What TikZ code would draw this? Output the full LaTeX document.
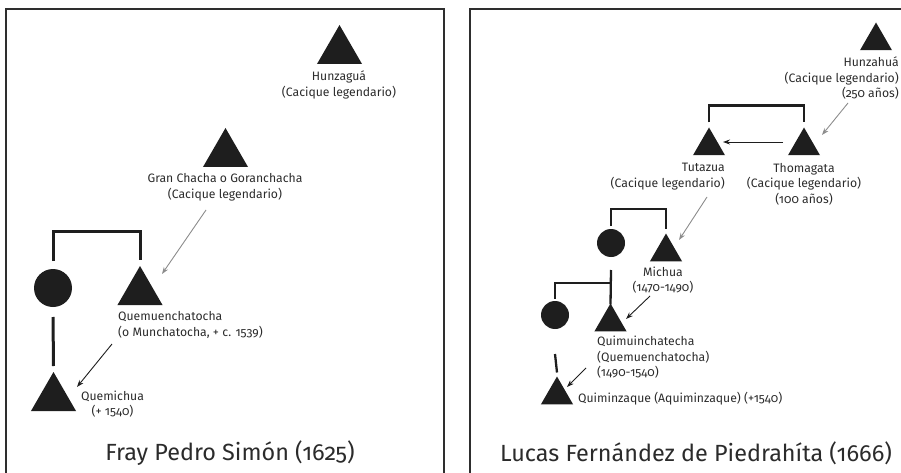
\documentclass[tikz,border=0pt]{standalone}
\usepackage{fontspec}
\setmainfont[Numbers=OldStyle]{Fira Sans}
\newfontfamily\lblfont[Numbers=OldStyle, Scale=1.22]{Fira Sans}
\newfontfamily\ttlfont[Numbers=OldStyle, Scale=2.34]{Fira Sans}
\usetikzlibrary{shapes.geometric,arrows.meta}

\definecolor{ink}{HTML}{1E1E1E}
\definecolor{txt}{HTML}{2B2B2B}
\definecolor{framec}{HTML}{2E2E2E}
\definecolor{pale}{HTML}{8C8C8C}

\tikzset{
  male/.style={regular polygon, regular polygon sides=3, fill=ink, draw=none,
               inner sep=0pt, outer sep=0pt, minimum size=#1},
  female/.style={circle, fill=ink, draw=none, inner sep=0pt, outer sep=0pt,
                 minimum size=#1},
  lbl/.style={font=\lblfont\fontsize{10}{15.5}\selectfont, text=txt, inner sep=0pt},
  heading/.style={font=\ttlfont, text=txt, inner sep=0pt},
  bond/.style={line width=#1, draw=ink},
  descent/.style={line width=0.9pt, draw=ink, -{Stealth[length=7pt,width=5pt]}},
  legend/.style={line width=0.9pt, draw=pale, -{Stealth[length=7pt,width=5pt]}},
  panel/.style={line width=1.3pt, draw=framec}
}

\begin{document}
\begin{tikzpicture}[x=1pt,y=-1pt]
  \useasboundingbox (0,0) rectangle (901,473);
  \clip (0,0) rectangle (901,473);

  % two panels
  \draw[panel] (6,490) -- (6,9) -- (444,9) -- (444,490);
  \draw[panel] (470,490) -- (470,9) -- (920,9);

  % ---------------- Fray Pedro Simón ----------------
  \node[male=52pt] (hunz) at (339.5,51) {};
  \node[lbl, align=center] (hunzlbl) at (339,85) {Hunzaguá\\(Cacique legendario)};

  \node[male=52pt] (gran) at (225.5,154) {};
  \node[lbl, align=center] (granlbl) at (225,187) {Gran Chacha o Goranchacha\\(Cacique legendario)};

  \node[female=38pt] (mother) at (53,288) {};
  \node[male=52pt] (quem) at (140,292) {};
  \node[lbl, align=left, anchor=west] (quemlbl) at (118,325) {Quemuenchatocha\\(o Munchatocha, + c. 1539)};

  \node[male=52pt] (quemi) at (53.5,398) {};
  \node[lbl, align=center] (quemilbl) at (112.5,404) {Quemichua\\(+ 1540)};

  \draw[bond=3pt] ([yshift=8pt]mother.north) -- ++(0,-30) -| ([yshift=6pt]quem.north);
  \draw[bond=3pt] ([yshift=-10pt]mother.south) -- ([yshift=6pt]quemi.north);

  \draw[legend] ([xshift=-19pt,yshift=-23pt]granlbl.center) -- ([xshift=22pt,yshift=18pt]quem.center);
  \draw[descent] ([xshift=-28pt,yshift=-52pt]quem.center) -- ([xshift=23.5pt,yshift=11pt]quemi.center);

  \node[heading] (simon) at (230,453) {Fray Pedro Simón (1625)};

  % ---------------- Lucas Fernández de Piedrahíta ----------------
  \node[male=37pt] (hunzr) at (876,41) {};
  \node[lbl, align=right, anchor=east] (hunzrlbl) at (899,78) {Hunzahuá\\(Cacique legendario)\\(250 años)};

  \node[male=37pt] (tut) at (709,146) {};
  \node[lbl, align=right, anchor=east] (tutlbl) at (725,176.5) {Tutazua\\(Cacique legendario)};

  \node[male=37pt] (thom) at (804,146) {};
  \node[lbl, align=center] (thomlbl) at (804,184) {Thomagata\\(Cacique legendario)\\(100 años)};

  \node[female=28pt] (wife) at (611,243) {};
  \node[male=37pt] (mich) at (666,252) {};
  \node[lbl, align=center] (michlbl) at (663,280) {Michua\\(1470-1490)};

  \node[female=28pt] (sister) at (555,315) {};
  \node[male=37pt] (quim) at (610.5,322) {};
  \node[lbl, align=left, anchor=west] (quimlbl) at (597,357.5) {Quimuinchatecha\\(Quemuenchatocha)\\(1490-1540)};

  \node[male=37pt] (quimz) at (557,395) {};
  \node[lbl, anchor=west] (quimzlbl) at (578,399) {Quiminzaque (Aquiminzaque) (+1540)};

  \coordinate (fork) at (611,283);

  \draw[bond=2.3pt] ([yshift=5pt]tut.north) -- ++(0,-17) -| ([yshift=5pt]thom.north);
  \draw[bond=2.3pt] ([yshift=3pt]wife.north) -- ++(0,-17) -| ([yshift=4pt]mich.north);
  \draw[bond=2.3pt] ([yshift=-13pt]wife.south) -- ([yshift=-1pt]quim.north);
  \draw[bond=2.3pt] (fork) -| ([yshift=2pt]sister.north);
  \draw[bond=2.3pt] ([yshift=-25pt]sister.south) -- ([yshift=4pt]quimz.north);

  \draw[legend] ([xshift=-28pt,yshift=-62pt]hunzr.center) -- ([xshift=18pt,yshift=11pt]thom.center);
  \draw[descent] ([xshift=-21pt,yshift=4pt]thom.center) -- ([xshift=14pt,yshift=4pt]tut.center);
  \draw[legend] ([xshift=-2pt,yshift=-51pt]tut.center) -- ([xshift=13pt,yshift=12pt]mich.center);
  \draw[descent] ([xshift=-16pt,yshift=-44pt]mich.center) -- ([xshift=15.5pt,yshift=3pt]quim.center);
  \draw[descent] ([xshift=-24.5pt,yshift=-46pt]quim.center) -- ([xshift=10pt,yshift=8pt]quimz.center);

  \node[heading] (piedrahita) at (696,453) {Lucas Fernández de Piedrahíta (1666)};
\end{tikzpicture}
\end{document}
